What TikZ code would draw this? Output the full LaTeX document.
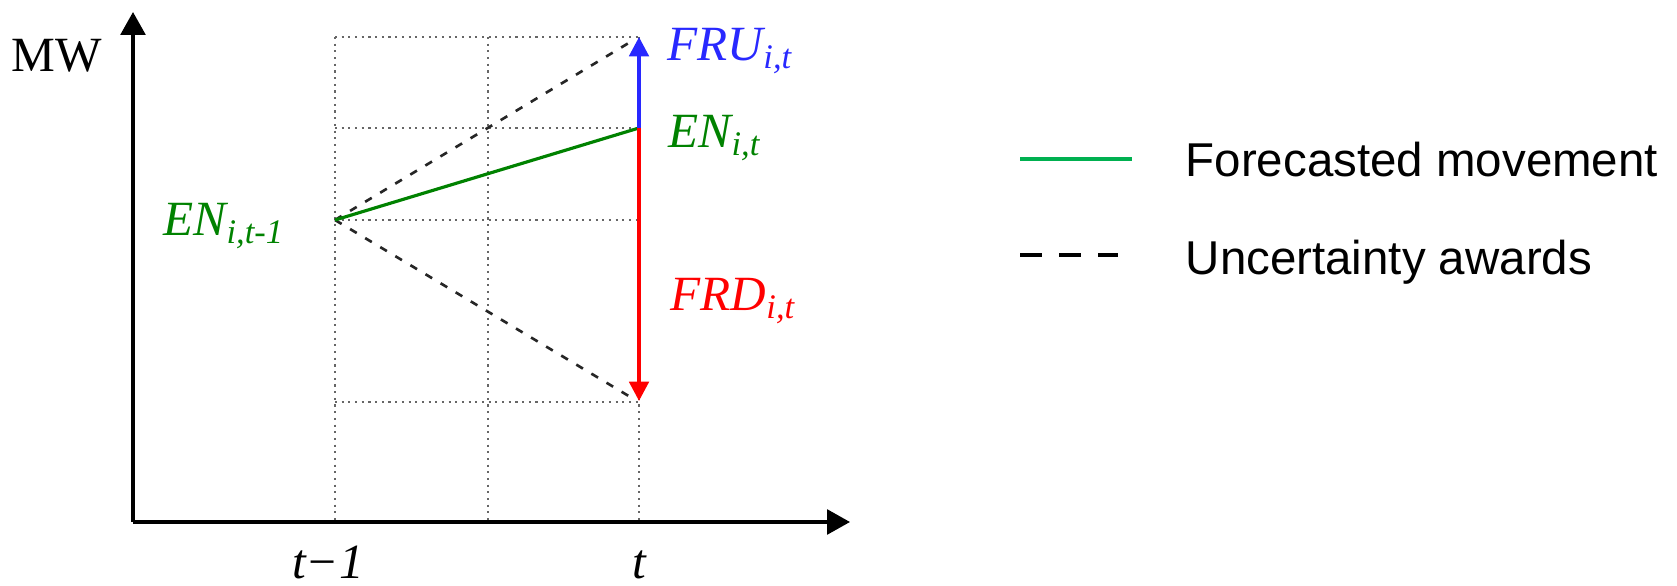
\documentclass[tikz,border=0pt]{standalone}
\usepackage{fontspec}
\newfontfamily\legendfont{Liberation Sans}
\newfontfamily\chartfont{Liberation Serif}
\usetikzlibrary{arrows.meta}
\definecolor{engreen}{RGB}{0,130,0}
\definecolor{leggreen}{RGB}{0,176,80}
\definecolor{frublue}{RGB}{40,40,255}
\tikzset{
  axisline/.style={line width=1pt,-{Triangle[length=6.5pt,width=7pt]}},
  gridline/.style={black!60,line width=0.6pt,dash pattern=on 0.6pt off 1.3pt},
  award/.style={black!85,line width=0.75pt,dash pattern=on 2.2pt off 2.8pt},
  forecast/.style={engreen,line width=0.9pt},
  reserve/.style={line width=1.1pt,-{Triangle[length=5.5pt,width=5.5pt]}},
  lbl/.style={font=\chartfont\fontsize{14}{16}\selectfont\itshape,inner sep=0pt},
  legtext/.style={font=\legendfont\fontsize{13.5}{16}\selectfont,inner sep=0pt,anchor=base west}
}
\begin{document}
\begin{tikzpicture}[x=0.01cm,y=-0.01cm]
  \useasboundingbox (0,0) rectangle (1677,586);
  % axes
  \coordinate (O) at (133,522);
  \coordinate (ytip) at (133,12);
  \coordinate (xtip) at (850,522);
  % grid
  \foreach \x in {335,488,639} {
    \draw[gridline] (\x,37) -- (\x,522);
  }
  \foreach \y in {37,128,220,402} {
    \draw[gridline] (335,\y) -- (639,\y);
  }
  \draw[axisline] (O) -- (ytip);
  \draw[axisline] (O) -- (xtip);
  % points
  \coordinate (prev) at (335,220);
  \coordinate (now) at (639,128);
  \coordinate (up) at (639,37);
  \coordinate (down) at (639,401);
  \coordinate (upend) at (632,41);
  \coordinate (downend) at (632,398);
  \draw[award] (prev) -- (upend);
  \draw[award] (prev) -- (downend);
  \draw[forecast] (prev) -- (now);
  \draw[reserve,frublue] (now) -- (up);
  \draw[reserve,red] (now) -- (down);
  % labels
  \node[lbl,font=\chartfont\fontsize{14}{16}\selectfont] (mw) at (57,56) {MW};
  \node[lbl,anchor=base west,text=engreen] (enprev) at (163,236) {EN\textsubscript{i,t-1}};
  \node[lbl,anchor=base west,text=engreen] (ennow) at (668,148) {EN\textsubscript{i,t}};
  \node[lbl,anchor=base west,text=frublue] (fru) at (667,61) {FRU\textsubscript{i,t}};
  \node[lbl,anchor=base west,text=red] (frd) at (670,311) {FRD\textsubscript{i,t}};
  \node[lbl,anchor=base] (tprev) at (328,578) {t−1};
  \node[lbl,anchor=base] (tnow) at (639,578) {t};
  % legend
  \coordinate (fa) at (1020,159);
  \coordinate (fb) at (1132,159);
  \coordinate (ua) at (1020,255);
  \coordinate (ub) at (1118,255);
  \draw[leggreen,line width=1.2pt] (fa) -- (fb);
  \draw[black,line width=1.2pt,dash pattern=on 6.3pt off 4.8pt] (ua) -- (ub);
  \node[legtext] (legf) at (1185,177) {Forecasted movement};
  \node[legtext] (legu) at (1185,275) {Uncertainty awards};
\end{tikzpicture}
\end{document}
